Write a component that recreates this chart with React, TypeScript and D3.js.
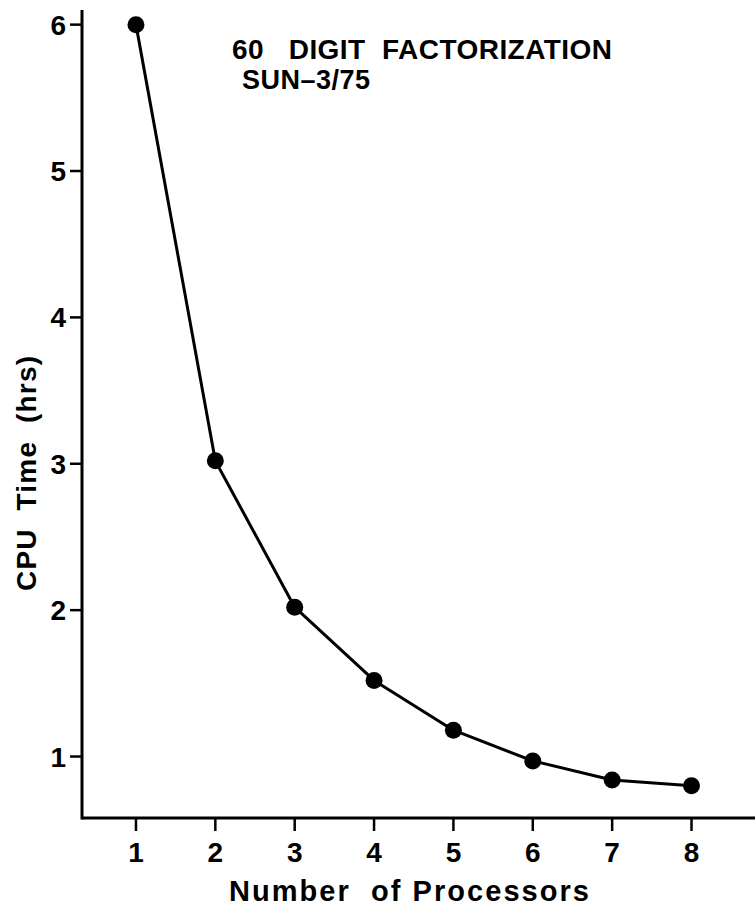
import React from "react";
import * as d3 from "d3";

const processors = [1, 2, 3, 4, 5, 6, 7, 8];
const cpuHours = [6.0, 3.02, 2.02, 1.52, 1.18, 0.97, 0.84, 0.8];
const xTicks = [1, 2, 3, 4, 5, 6, 7, 8];
const yTicks = [1, 2, 3, 4, 5, 6];

const W = 755;
const H = 909;
const FONT = "'Liberation Sans', Arial, Helvetica, sans-serif";

export default function App() {
  const x = d3.scaleLinear().domain([0.32, 8.8]).range([82, 755]);
  const y = d3.scaleLinear().domain([0.58, 6.1]).range([818, 10]);

  const line = d3
    .line<number>()
    .x((_, i) => x(processors[i]))
    .y((d) => y(d));

  const [x0, x1] = x.range();
  const [yBottom, yTop] = y.range();

  return (
    <svg
      width={W}
      height={H}
      style={{ position: "absolute", left: 0, top: 0, background: "#fff" }}
      fontFamily={FONT}
      fontWeight="bold"
    >
      {/* axes */}
      <line x1={x0} x2={x0} y1={yTop} y2={yBottom + 1.5} stroke="#000" strokeWidth={3} />
      <line x1={x0} x2={x1} y1={yBottom} y2={yBottom} stroke="#000" strokeWidth={3} />

      {yTicks.map((t) => (
        <g key={"y" + t} transform={`translate(0,${y(t)})`}>
          <line x1={x0 - 12} x2={x0} stroke="#000" strokeWidth={2.5} />
          <text x={x0 - 16} dy="0.36em" textAnchor="end" fontSize={28}>
            {t}
          </text>
        </g>
      ))}

      {xTicks.map((t) => (
        <g key={"x" + t} transform={`translate(${x(t)},${yBottom})`}>
          <line y1={0} y2={13} stroke="#000" strokeWidth={2.5} />
          <text y={44} textAnchor="middle" fontSize={28}>
            {t}
          </text>
        </g>
      ))}

      {/* data */}
      <path d={line(cpuHours) || ""} fill="none" stroke="#000" strokeWidth={3} strokeLinejoin="round" />
      {cpuHours.map((v, i) => (
        <circle key={i} cx={x(processors[i])} cy={y(v)} r={8.5} fill="#000" />
      ))}

      {/* labels */}
      <text
        x={229}
        y={901}
        fontSize={29}
        textLength={360}
        lengthAdjust="spacing"
        style={{ whiteSpace: "pre" }}
      >
        {"Number  of Processors"}
      </text>
      <text
        transform={`translate(36,591) rotate(-90)`}
        fontSize={28}
        textLength={235}
        lengthAdjust="spacing"
        style={{ whiteSpace: "pre" }}
      >
        {"CPU  Time  (hrs)"}
      </text>
      <text
        x={232}
        y={59}
        fontSize={28}
        textLength={380}
        lengthAdjust="spacing"
        style={{ whiteSpace: "pre" }}
      >
        {"60   DIGIT  FACTORIZATION"}
      </text>
      <text x={242} y={89} fontSize={27} textLength={128} lengthAdjust="spacing">
        SUN–3/75
      </text>
    </svg>
  );
}
